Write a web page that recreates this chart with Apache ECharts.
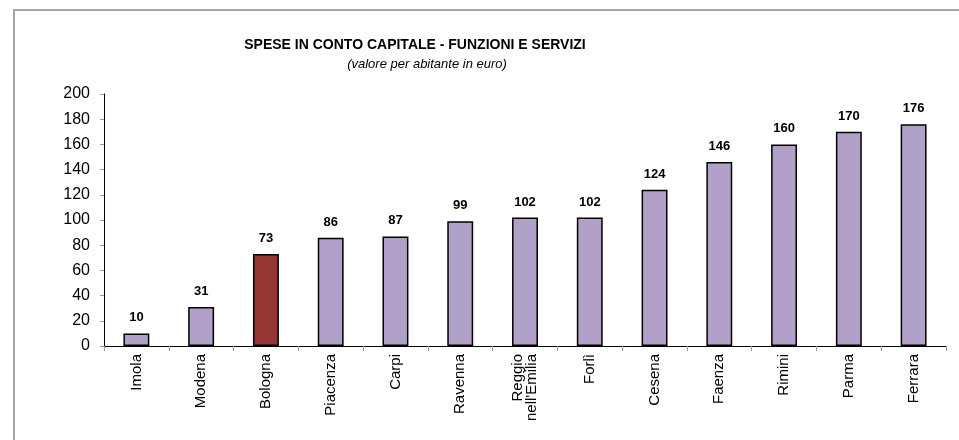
<!DOCTYPE html>
<html>
<head>
<meta charset="utf-8">
<script src="https://cdn.jsdelivr.net/npm/echarts@6/dist/echarts.min.js"></script>
<style>
  html, body { margin: 0; padding: 0; background: #fff; }
  #main { width: 959px; height: 440px; }
</style>
</head>
<body>
<div id="main"></div>
<script>
// Categories and values
const cities = ['Imola', 'Modena', 'Bologna', 'Piacenza', 'Carpi', 'Ravenna', "Reggio\nnell'Emilia",
    'Forlì', 'Cesena', 'Faenza', 'Rimini', 'Parma', 'Ferrara'];
const values = [10, 31, 73, 86, 87, 99, 102, 102, 124, 146, 160, 170, 176];
// Highlighted city
const highlight = 'Bologna';

const font = 'Liberation Sans, Arial, sans-serif';
const myChart = echarts.init(document.getElementById('main'));

let option = {
    backgroundColor: '#fff',
    textStyle: { fontFamily: font },
    graphic: [{
        type: 'rect',
        shape: { x: 14, y: 10, width: 960, height: 450 },
        style: { fill: 'none', stroke: '#a6a6a6', lineWidth: 2 },
        silent: true
    }],
    title: [
        {
            text: 'SPESE IN CONTO CAPITALE - FUNZIONI E SERVIZI',
            left: 410,
            textAlign: 'center',
            top: 33,
            textStyle: { fontSize: 14, fontWeight: 'bold', color: '#000', fontFamily: font }
        },
        {
            text: '(valore per abitante in euro)',
            left: 422,
            textAlign: 'center',
            top: 53,
            textStyle: { fontSize: 13, fontStyle: 'italic', fontWeight: 'normal', color: '#000', fontFamily: font }
        }
    ],
    grid: { left: 104, right: 13, top: 94, bottom: 94 },
    xAxis: {
        type: 'category',
        data: cities,
        axisLine: { lineStyle: { color: '#000', width: 1 } },
        axisTick: { show: true, length: 5, lineStyle: { color: '#999' } },
        axisLabel: {
            rotate: 90,
            interval: 0,
            margin: 8,
            color: '#000',
            fontSize: 15,
            lineHeight: 14
        }
    },
    yAxis: {
        type: 'value',
        min: 0,
        max: 200,
        interval: 20,
        splitLine: { show: false },
        axisLine: { show: true, lineStyle: { color: '#000', width: 1 } },
        axisTick: { show: true, length: 4, lineStyle: { color: '#999' } },
        axisLabel: { color: '#000', fontSize: 16, margin: 14 }
    },
    series: [{
        type: 'bar',
        barWidth: '40%',
        data: values.map((v, i) => ({
            value: v,
            itemStyle: { color: cities[i] === highlight ? '#953735' : '#b1a0c7' }
        })),
        itemStyle: { borderColor: '#000', borderWidth: 1.5 },
        label: {
            show: true,
            position: 'top',
            distance: 9,
            color: '#000',
            fontSize: 13,
            fontWeight: 'bold'
        }
    }]
};

option && myChart.setOption(option);
</script>
</body>
</html>
